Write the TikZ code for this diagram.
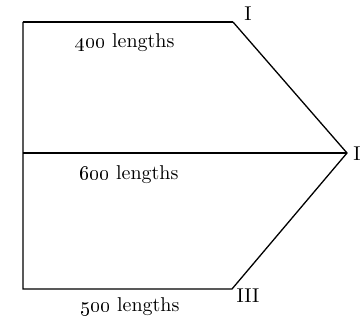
\documentclass[tikz,border=0pt]{standalone}
\usetikzlibrary{positioning}

\begin{document}
\begin{tikzpicture}[x=0.5pt, y=-0.5pt, font=\fontsize{10}{12}\selectfont]
        \useasboundingbox (0,0) rectangle (361,321);
        % corners of the figure
        \coordinate (tl) at (23,22);
        \coordinate (tr) at (233,22);
        \coordinate (ml) at (23,153);
        \coordinate (mr) at (347,153);
        \coordinate (bl) at (23,289);
        \coordinate (br) at (232,289);
        \draw[line width=1pt] (tl) -- (tr);
        \draw[line width=0.65pt] (tr) -- (mr) -- (br) -- (bl) -- (tl);
        \draw[line width=0.65pt] (ml) -- (mr);
        % lengths
        \node (top) at (125,43) {\oldstylenums{400} lengths};
        \node (mid) at (129,175) {\oldstylenums{600} lengths};
        \node (bot) at (130,307) {\oldstylenums{500} lengths};
        % divisions
        \node[inner sep=1pt] (one) at (248,14) {I};
        \node[anchor=west, inner sep=1pt] (two) at (351,154) {II};
        \node[inner sep=1pt] (three) at (248,296) {III};
      \end{tikzpicture}
\end{document}
